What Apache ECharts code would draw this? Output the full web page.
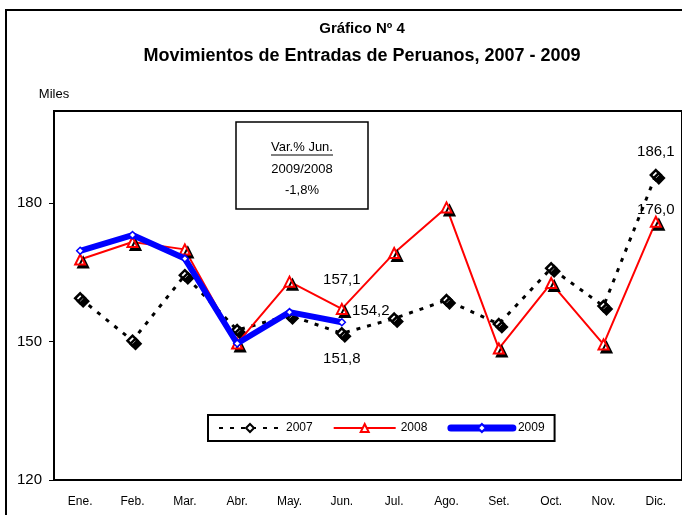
<!DOCTYPE html>
<html>
<head>
<meta charset="utf-8">
<script src="https://cdn.jsdelivr.net/npm/echarts@6/dist/echarts.min.js"></script>
<style>
html, body { margin: 0; padding: 0; background: #fff; }
#main { width: 682px; height: 515px; }
</style>
</head>
<body>
<div id="main"></div>
<script>
var meses = ['Ene.', 'Feb.', 'Mar.', 'Abr.', 'May.', 'Jun.', 'Jul.', 'Ago.', 'Set.', 'Oct.', 'Nov.', 'Dic.'];
var anios = ['2007', '2008', '2009'];
var v2007 = [159.4, 150.2, 164.4, 152.5, 155.7, 151.8, 155.0, 159.0, 153.8, 165.9, 157.7, 186.1];
var v2008 = [167.8, 171.6, 170.0, 149.6, 163.0, 157.1, 169.2, 179.1, 148.5, 162.7, 149.4, 176.0];
var v2009 = [169.7, 173.1, 168.0, 149.6, 156.4, 154.2];
var yTicks = [120, 150, 180];

var FONT = '"Liberation Sans", Arial, sans-serif';

function coma(p) {
	return p.value.toFixed(1).replace('.', ',');
}
// etiquetas solo en algunos puntos
function conEtiqueta(arr, cuales) {
	return arr.map(function (v, i) {
		if (cuales[i]) {
			return { value: v, label: Object.assign({ show: true }, cuales[i]) };
		}
		return v;
	});
}

var myChart = echarts.init(document.getElementById('main'));
var option = {
	animation: false,
	textStyle: { fontFamily: FONT, color: '#000' },
	grid: {
		left: 54, top: 111, right: -9, bottom: 35,
		show: true, borderColor: '#000', borderWidth: 2
	},
	legend: {
		data: [
			{ name: anios[0] },
			{ name: anios[1] },
			{ name: anios[2], lineStyle: { width: 7, cap: 'round' } }
		],
		left: 208, top: 415,
		padding: [7, 10],
		itemWidth: 62, itemHeight: 10, itemGap: 20,
		borderColor: '#000', borderWidth: 2,
		textStyle: { fontFamily: FONT, fontSize: 12, color: '#000' }
	},
	xAxis: {
		type: 'category',
		data: meses,
		axisLine: { lineStyle: { color: '#000', width: 2 } },
		axisTick: { length: 5, lineStyle: { color: '#000' } },
		axisLabel: { color: '#000', fontSize: 12, margin: 16, fontFamily: FONT }
	},
	yAxis: {
		type: 'value',
		min: 120, max: 200, interval: 30,
		name: 'Miles',
		nameLocation: 'end',
		nameGap: 10,
		nameTextStyle: { color: '#000', fontSize: 13, fontFamily: FONT, align: 'center' },
		axisLine: { show: true, lineStyle: { color: '#000', width: 2 } },
		axisTick: { show: true, length: 5, lineStyle: { color: '#000' } },
		axisLabel: {
			color: '#000', fontSize: 15, margin: 12, fontFamily: FONT, showMaxLabel: false,
			formatter: function (v) { return yTicks.indexOf(v) >= 0 ? v : ''; }
		},
		splitLine: { show: false }
	},
	graphic: [
		{ type: 'rect', shape: { x: 6, y: 10, width: 720, height: 540 }, style: { fill: 'none', stroke: '#000', lineWidth: 2 }, silent: true },
		{ type: 'text', x: 362, y: 29, style: { text: 'Gráfico Nº 4', font: 'bold 15px ' + FONT, textAlign: 'center', textVerticalAlign: 'middle', fill: '#000' } },
		{ type: 'text', x: 362, y: 56, style: { text: 'Movimientos de Entradas de Peruanos, 2007 - 2009', font: 'bold 18px ' + FONT, textAlign: 'center', textVerticalAlign: 'middle', fill: '#000' } },
		{ type: 'rect', shape: { x: 236, y: 122, width: 132, height: 87 }, style: { fill: '#fff', stroke: '#000', lineWidth: 1.5 } },
		{ type: 'text', x: 302, y: 147, style: { text: 'Var.% Jun.', font: '13px ' + FONT, textAlign: 'center', textVerticalAlign: 'middle', fill: '#000' } },
		{ type: 'line', shape: { x1: 271, y1: 155, x2: 333, y2: 155 }, style: { stroke: '#000', lineWidth: 1 } },
		{ type: 'text', x: 302, y: 169, style: { text: '2009/2008', font: '13px ' + FONT, textAlign: 'center', textVerticalAlign: 'middle', fill: '#000' } },
		{ type: 'text', x: 302, y: 190, style: { text: '-1,8%', font: '13px ' + FONT, textAlign: 'center', textVerticalAlign: 'middle', fill: '#000' } }
	],
	series: [{
		name: anios[0],
		type: 'line',
		data: conEtiqueta(v2007, { 5: { position: 'bottom', distance: 12 }, 11: { position: 'top', distance: 10 } }),
		symbol: 'diamond', symbolSize: 10,
		lineStyle: { color: '#000', width: 3, type: [4, 7] },
		itemStyle: { color: '#fff', borderColor: '#000', borderWidth: 2.5, shadowColor: '#000', shadowOffsetX: 3, shadowOffsetY: 3, shadowBlur: 0 },
		label: { formatter: coma, fontSize: 15, color: '#000', fontFamily: FONT },
		z: 2
	}, {
		name: anios[1],
		type: 'line',
		data: conEtiqueta(v2008, { 5: { position: 'top', distance: 16 }, 11: { position: 'top', distance: -2 } }),
		symbol: 'triangle', symbolSize: 10,
		lineStyle: { color: '#ff0000', width: 2 },
		itemStyle: { color: '#fff', borderColor: '#ff0000', borderWidth: 2, shadowColor: '#000', shadowOffsetX: 3, shadowOffsetY: 3, shadowBlur: 0 },
		label: { formatter: coma, fontSize: 15, color: '#000', fontFamily: FONT },
		z: 3
	}, {
		name: anios[2],
		type: 'line',
		data: conEtiqueta(v2009, { 5: { position: 'right', distance: 6, offset: [0, -11] } }),
		symbol: 'diamond', symbolSize: 7,
		lineStyle: { color: '#0000ff', width: 6 },
		itemStyle: { color: '#fff', borderColor: '#0000ff', borderWidth: 1.5 },
		label: { formatter: coma, fontSize: 15, color: '#000', fontFamily: FONT },
		z: 4
	}]
};
myChart.setOption(option);
</script>
</body>
</html>
